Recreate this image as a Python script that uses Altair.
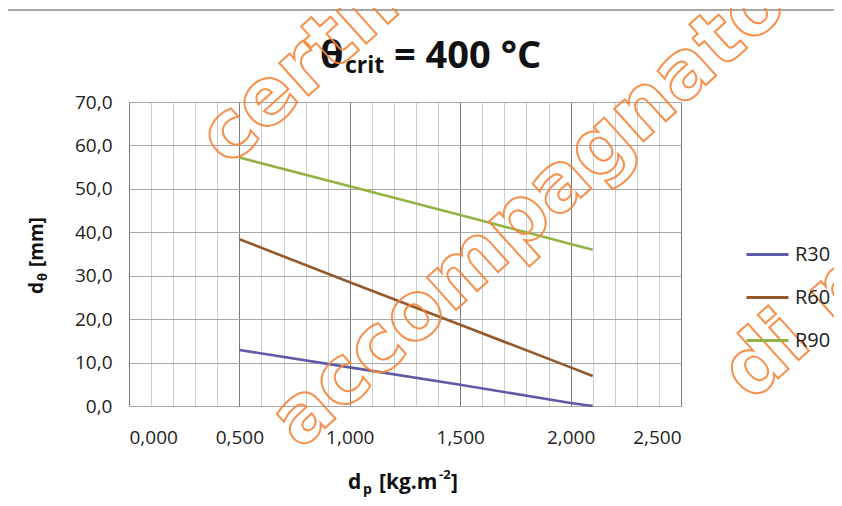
import altair as alt
import pandas as pd

# ---- data ----
series_names = ["R30", "R60", "R90"]
series_colors = ["#5f5aa6", "#94592a", "#93b245"]
dp_values = [0.5, 1.0, 1.5, 2.0, 2.1]
r30_values = [12.9, 8.9, 4.9, 0.7, 0.0]
r60_values = [38.4, 28.5, 18.7, 8.9, 6.9]
r90_values = [57.2, 50.6, 44.0, 37.3, 36.0]

x_ticks = [round(i * 0.1, 1) for i in range(26)]
y_ticks = [0, 10, 20, 30, 40, 50, 60, 70]

rows = []
for name, vals in zip(series_names, [r30_values, r60_values, r90_values]):
    for xv, yv in zip(dp_values, vals):
        rows.append({"series": name, "dp": xv, "dtheta": yv})
df = pd.DataFrame(rows)

FONT = "Open Sans"
W, H = 552, 304

lines = alt.Chart(df).mark_line(strokeWidth=2.6).encode(
    x=alt.X("dp:Q",
            scale=alt.Scale(domain=[0, 2.5], nice=False, zero=False),
            axis=alt.Axis(values=x_ticks, title=None, ticks=False, domain=False,
                          labelExpr="(round(datum.value*10) % 5 == 0) ? replace(format(datum.value, '.3f'), '.', ',') : ''",
                          labelOverlap=False, labelBound=False, labelPadding=22,
                          labelFontSize=19, labelFont=FONT, labelColor="#222222",
                          grid=True,
                          gridColor={"condition": {"test": "round(datum.value*10) % 5 == 0", "value": "#7a7a7a"},
                                     "value": "#cccccc"},
                          gridWidth=1)),
    y=alt.Y("dtheta:Q",
            scale=alt.Scale(domain=[0, 70], nice=False),
            axis=alt.Axis(values=y_ticks, title=None, ticks=False, domain=False,
                          labelExpr="replace(format(datum.value, '.1f'), '.', ',')",
                          labelPadding=17, labelFontSize=19, labelFont=FONT,
                          labelColor="#222222", grid=True, gridColor="#a8a8a8")),
    color=alt.Color("series:N",
                    scale=alt.Scale(domain=series_names, range=series_colors),
                    legend=alt.Legend(orient="none", legendX=616, legendY=130, title=None,
                                      symbolType="stroke", symbolSize=1764,
                                      symbolStrokeWidth=3, labelFontSize=20,
                                      labelFont=FONT, labelColor="#222222",
                                      rowPadding=10, padding=0, labelOffset=5)),
)


def txt(s, x, y, size, bold=True, angle=0, align="left", baseline="alphabetic", color="#111111"):
    d = pd.DataFrame({"t": [s]})
    return alt.Chart(d).mark_text(
        font=FONT, fontSize=size, fontWeight="bold" if bold else "normal",
        angle=angle, align=align, baseline=baseline, color=color,
    ).encode(text="t:N", x=alt.value(x), y=alt.value(y))


def wm(s, x, y, align="center"):
    d = pd.DataFrame({"t": [s]})
    return alt.Chart(d).mark_text(
        font="DejaVu Sans", fontSize=80, fontWeight="bold", angle=318,
        align=align, baseline="middle", fill="white", fillOpacity=0,
        stroke="#f5853a", strokeWidth=2, strokeOpacity=0.9,
    ).encode(text="t:N", x=alt.value(x), y=alt.value(y))


# title  θcrit = 400 °C
title_parts = [
    txt("θ", 191, -34, 38),
    txt("crit", 216, -29, 23),
    txt("= 400 °C", 265, -34, 38),
]

# x-axis title  dp [kg.m-2]
xt_parts = [
    txt("d", 219, 387, 21),
    txt("p", 234, 392, 14),
    txt("[kg.m", 250, 387, 21),
    txt("-2", 310, 377, 13),
    txt("]", 322, 387, 21),
]

# y-axis title  dθ [mm]
yt_parts = [
    txt("d", -86, 192, 19, angle=270),
    txt("θ", -82, 179, 13, angle=270),
    txt("[mm]", -86, 165, 19, angle=270),
]

frame_df = pd.DataFrame({"k": [0]})
frame_top = alt.Chart(frame_df).mark_rule(color="#8a8a8a", strokeWidth=1.5).encode(
    x=alt.value(-122), x2=alt.value(713), y=alt.value(-92))
frame_left = alt.Chart(frame_df).mark_rule(color="#8a8a8a", strokeWidth=1.5).encode(
    x=alt.value(-122), y=alt.value(-92), y2=alt.value(404))

watermark = [
    wm("certificato", 254, -106),
    wm("accompagnato", 400, 110),
    wm("di rapporto", 606, 283, align="left"),
]

chart = alt.layer(
    frame_top, frame_left, lines, *title_parts, *xt_parts, *yt_parts, *watermark
).properties(
    width=W, height=H,
    autosize=alt.AutoSizeParams(type="none"),
    padding={"left": 121, "top": 94, "right": 153, "bottom": 92},
).configure_view(stroke=None).configure(background="white")

chart.save("out.html", embed_options={"renderer": "svg", "actions": False})
